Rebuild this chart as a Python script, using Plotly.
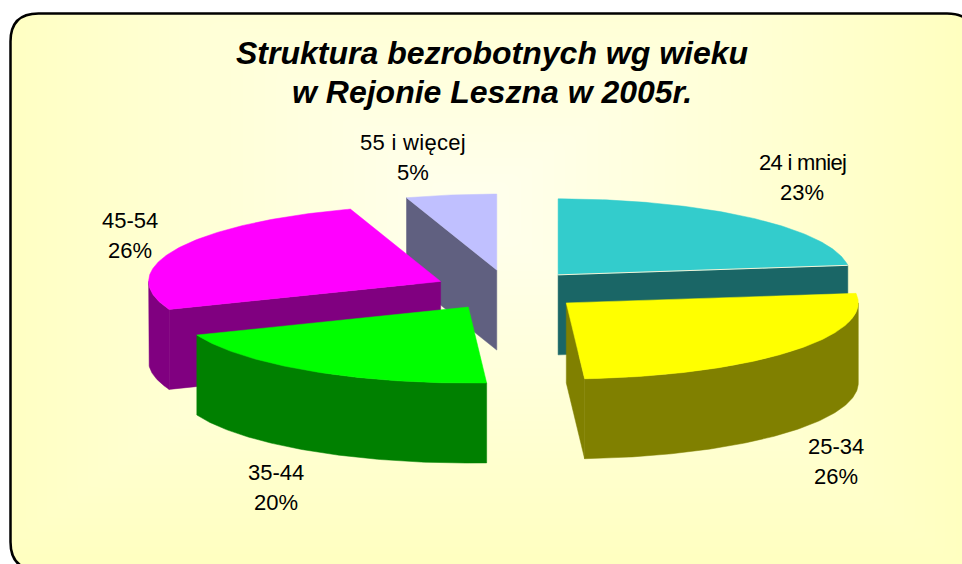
import numpy as np
import plotly.graph_objects as go

# --- data ---
categories = ["24 i mniej", "25-34", "35-44", "45-54", "55 i więcej"]
values = [23, 26, 20, 26, 5]
title_lines = ["Struktura bezrobotnych wg wieku", "w Rejonie Leszna w 2005r."]

# --- styles ---
top_colors = ["#33CCCC", "#FFFF00", "#00FF00", "#FF00FF", "#C0C0FF"]
side_colors = ["#1A6666", "#808000", "#008000", "#800080", "#606080"]
draw_order = [4, 0, 3, 1, 2]
label_centres = [(802, 162), (836, 446), (276, 472), (130, 220), (413, 142)]
label_spacing = [-0.7, 0, 0, 0, 0.3]

W, H = 962, 564
CX, CY = 508.5, 290    # pie centre
RX, RY = 292, 76       # tilted ellipse radii
DEPTH = 80             # extrusion
PULL_X, PULL_Y = 75, 20.2   # explosion
FONT = "Liberation Sans, Arial, sans-serif"

fig = go.Figure()

# background gradient (pale yellow edges, lighter toward the upper middle)
gx = np.linspace(0, W, 97)
gy = np.linspace(0, H, 57)
X, Y = np.meshgrid(gx, gy)
d = np.maximum(np.abs(X - 470) / 490, np.abs(Y - 210) / 355)
fig.add_trace(go.Heatmap(x=gx, y=gy, z=np.clip(d, 0, 1), zmin=0, zmax=1, zsmooth="best",
                         colorscale=[[0, "#FFFFEE"], [0.5, "#FFFFD8"], [1, "#FFFFC0"]],
                         showscale=False, hoverinfo="skip"))


def pt(apex, deg, z=0.0):
    t = np.radians(deg)
    return apex[0] + RX * np.sin(t), apex[1] - RY * np.cos(t) + z


def arc(apex, a, b, z=0.0):
    ts = np.linspace(a, b, max(int(abs(b - a) * 1.5), 2))
    return [pt(apex, t, z) for t in ts]


def poly(points, color):
    xs = [p[0] for p in points] + [points[0][0]]
    ys = [p[1] for p in points] + [points[0][1]]
    fig.add_trace(go.Scatter(x=xs, y=ys, mode="lines", fill="toself", fillcolor=color,
                             line=dict(width=0.5, color=color), hoverinfo="skip", showlegend=False))


total = sum(values)
edges = np.cumsum([0] + values) / total * 360.0

for i in draw_order:
    a0, a1 = edges[i], edges[i + 1]
    mid = np.radians((a0 + a1) / 2)
    apex = (CX + PULL_X * np.sin(mid), CY - PULL_Y * np.cos(mid))
    side = side_colors[i]
    low = (apex[0], apex[1] + DEPTH)
    # radial wall at the start of the slice
    if np.sin(np.radians(a0)) < 0:
        p, q = pt(apex, a0), pt(apex, a0, DEPTH)
        poly([apex, p, q, low], side)
    # radial wall at the end of the slice
    if np.sin(np.radians(a1)) > 0:
        p, q = pt(apex, a1), pt(apex, a1, DEPTH)
        poly([apex, p, q, low], side)
    # outer rim where it faces the viewer
    s, e = max(a0, 90), min(a1, 270)
    if s < e:
        poly(arc(apex, s, e) + arc(apex, e, s, DEPTH), side)
    # top face
    poly([apex] + arc(apex, a0, a1), top_colors[i])
    if i == 0:
        e_pt = pt(apex, a1)
        fig.add_trace(go.Scatter(x=[apex[0], e_pt[0]], y=[apex[1], e_pt[1]], mode="lines",
                                 line=dict(width=1, color="#F4F4D8"), hoverinfo="skip", showlegend=False))

# labels
annotations = []
for name, v, (lx, ly), sp in zip(categories, values, label_centres, label_spacing):
    styled = f'<span style="letter-spacing:{sp}px">{name}</span>' if sp else name
    for text, yy in ((styled, ly), (f"{round(v / total * 100)}%", ly + 30)):
        annotations.append(dict(x=lx, y=yy, text=text, showarrow=False, xanchor="center", yanchor="middle",
                                font=dict(family=FONT, size=22, color="#000000")))
for text, yy in zip(title_lines, (53, 92)):
    annotations.append(dict(x=492, y=yy, text=f"<b><i>{text}</i></b>", showarrow=False,
                            xanchor="center", yanchor="middle",
                            font=dict(family=FONT, size=32, color="#000000")))

# rounded frame, white outside it
L, T, R, B, r = 10.5, 13.5, 975, 570, 28
frame = (f"M{L+r},{T} L{R-r},{T} Q{R},{T} {R},{T+r} L{R},{B-r} Q{R},{B} {R-r},{B} "
         f"L{L+r},{B} Q{L},{B} {L},{B-r} L{L},{T+r} Q{L},{T} {L+r},{T} Z")
outer = f"M-5,-5 L{W+5},-5 L{W+5},{H+5} L-5,{H+5} Z "
shapes = [
    dict(type="path", path=outer + frame, fillcolor="#FFFFFF", fillrule="evenodd",
         line=dict(width=0), layer="above"),
    dict(type="path", path=frame, line=dict(color="#000000", width=2.5), layer="above"),
]

fig.update_layout(
    width=W, height=H, margin=dict(l=0, r=0, t=0, b=0),
    paper_bgcolor="#FFFFFF", plot_bgcolor="#FFFFFF",
    xaxis=dict(range=[0, W], visible=False, fixedrange=True),
    yaxis=dict(range=[H, 0], visible=False, fixedrange=True),
    showlegend=False, annotations=annotations, shapes=shapes,
)
fig.write_html("out.html", config={"displayModeBar": False},
               post_script="document.body.style.margin='0';document.documentElement.style.overflow='hidden';")
